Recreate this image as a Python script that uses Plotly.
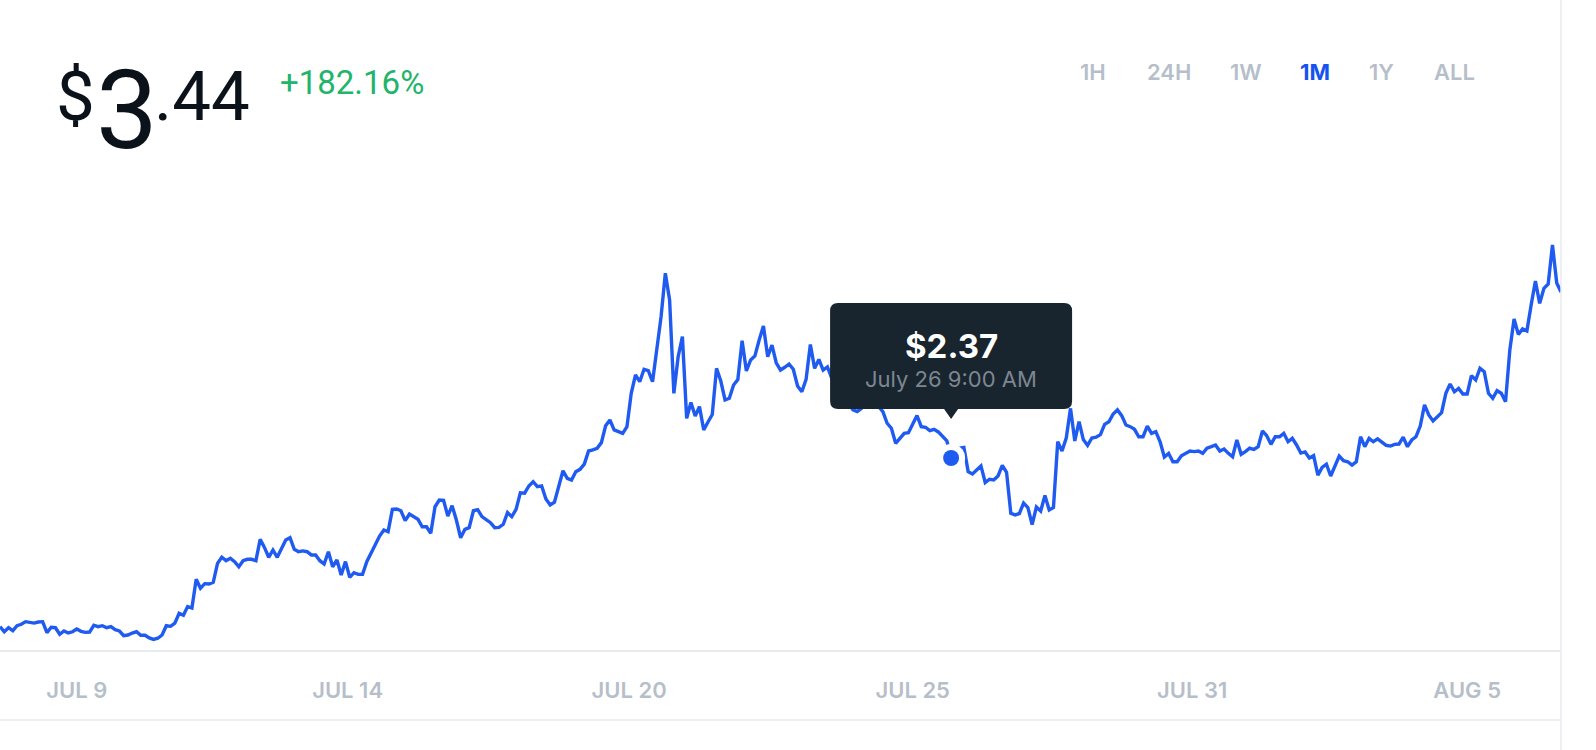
import plotly.graph_objects as go
import pandas as pd

# 1M price history, one point every 2 hours
start_time = "2018-07-07 19:00"
prices = [
    1.283, 1.250, 1.276, 1.257, 1.289, 1.298, 1.315, 1.308, 1.306, 1.313,
    1.315, 1.244, 1.279, 1.276, 1.234, 1.255, 1.242, 1.250, 1.268, 1.253,
    1.246, 1.248, 1.292, 1.283, 1.289, 1.276, 1.283, 1.263, 1.255, 1.225,
    1.229, 1.242, 1.250, 1.227, 1.227, 1.210, 1.201, 1.208, 1.229, 1.289,
    1.285, 1.305, 1.369, 1.356, 1.412, 1.403, 1.588, 1.530, 1.560, 1.558,
    1.569, 1.691, 1.730, 1.708, 1.724, 1.702, 1.669, 1.708, 1.717, 1.717,
    1.708, 1.846, 1.794, 1.730, 1.777, 1.730, 1.782, 1.842, 1.856, 1.782,
    1.766, 1.771, 1.766, 1.745, 1.745, 1.708, 1.687, 1.766, 1.669, 1.713,
    1.616, 1.702, 1.601, 1.631, 1.620, 1.620, 1.702, 1.760, 1.816, 1.867,
    1.906, 1.895, 2.039, 2.041, 2.030, 1.966, 2.009, 1.992, 1.975, 1.927,
    1.927, 1.885, 2.056, 2.099, 2.097, 1.996, 2.063, 1.970, 1.856, 1.910,
    1.921, 2.030, 2.037, 1.992, 1.974, 1.953, 1.921, 1.923, 1.943, 2.018,
    1.992, 2.039, 2.146, 2.143, 2.190, 2.217, 2.185, 2.190, 2.106, 2.067,
    2.085, 2.190, 2.288, 2.239, 2.228, 2.282, 2.297, 2.331, 2.415, 2.422,
    2.433, 2.469, 2.578, 2.615, 2.551, 2.540, 2.529, 2.572, 2.787, 2.905,
    2.862, 2.942, 2.933, 2.862, 3.066, 3.281, 3.561, 3.389, 2.787, 3.023,
    3.152, 2.626, 2.728, 2.641, 2.701, 2.551, 2.602, 2.650, 2.948, 2.866,
    2.744, 2.755, 2.841, 2.876, 3.126, 2.931, 3.002, 3.028, 3.131, 3.221,
    3.023, 3.098, 2.984, 2.937, 2.955, 2.976, 2.942, 2.834, 2.797, 2.877,
    3.102, 2.948, 3.005, 2.937, 2.957, 2.886, 2.834, 2.808, 2.757, 2.718,
    2.680, 2.669, 2.690, 2.725, 2.757, 2.737, 2.705, 2.669, 2.594, 2.562,
    2.465, 2.497, 2.529, 2.533, 2.589, 2.644, 2.572, 2.568, 2.546, 2.555,
    2.538, 2.512, 2.480, 2.370, 2.409, 2.434, 2.438, 2.282, 2.267, 2.293,
    2.319, 2.212, 2.233, 2.228, 2.254, 2.322, 2.277, 2.014, 2.003, 2.012,
    2.080, 2.051, 1.941, 2.054, 2.028, 2.128, 2.035, 2.051, 2.475, 2.415,
    2.499, 2.690, 2.480, 2.604, 2.489, 2.451, 2.499, 2.504, 2.521, 2.587,
    2.604, 2.654, 2.680, 2.643, 2.583, 2.572, 2.555, 2.507, 2.507, 2.576,
    2.529, 2.540, 2.475, 2.376, 2.400, 2.346, 2.346, 2.385, 2.400, 2.415,
    2.411, 2.415, 2.400, 2.433, 2.443, 2.454, 2.415, 2.428, 2.400, 2.378,
    2.486, 2.394, 2.411, 2.433, 2.426, 2.443, 2.544, 2.514, 2.458, 2.507,
    2.507, 2.529, 2.475, 2.497, 2.454, 2.402, 2.409, 2.370, 2.385, 2.260,
    2.310, 2.330, 2.254, 2.319, 2.383, 2.353, 2.346, 2.325, 2.346, 2.507,
    2.443, 2.497, 2.475, 2.493, 2.469, 2.452, 2.447, 2.458, 2.460, 2.504,
    2.443, 2.486, 2.507, 2.576, 2.712, 2.647, 2.609, 2.636, 2.662, 2.787,
    2.847, 2.797, 2.819, 2.783, 2.783, 2.901, 2.873, 2.948, 2.926, 2.787,
    2.755, 2.804, 2.787, 2.733, 3.066, 3.266, 3.167, 3.202, 3.189, 3.356,
    3.511, 3.367, 3.464, 3.492, 3.743, 3.498, 3.440,
]
times = pd.date_range(start_time, periods=len(prices), freq="2h")

tick_dates = ["2018-07-09 07:00", "2018-07-14 14:00", "2018-07-20 02:00",
              "2018-07-25 15:00", "2018-07-31 02:00", "2018-08-05 11:00"]
tick_labels = ["JUL 9", "JUL 14", "JUL 20", "JUL 25", "JUL 31", "AUG 5"]

hover_time = "2018-07-26 09:00"
hover_price = "$2.37"
hover_label = "July 26 9:00 AM"

price_dollar = "$"
price_int = "3"
price_dec = ".44"
change_text = "+182.16%"

ranges = ["1H", "24H", "1W", "1M", "1Y", "ALL"]
range_x = [1093, 1169, 1246, 1315, 1381, 1454]
active_range = "1M"

BLUE = "#1f5bf0"
DARK = "#0b121a"
GREY = "#b6bfc9"
LINE = "#e7eaee"

W, H = 1596, 750
PLOT_W = 1561
PLOT_TOP, PLOT_H = 150, 500

def px(x):
    return x / PLOT_W

def py(y):
    return (PLOT_TOP + PLOT_H - y) / PLOT_H

hi = list(times).index(pd.Timestamp(hover_time))
hx, hy = times[hi], prices[hi]

fig = go.Figure()
fig.add_trace(go.Scatter(x=times, y=prices, mode="lines",
                         line=dict(color=BLUE, width=3.4), hoverinfo="skip"))
fig.add_trace(go.Scatter(x=[hx], y=[hy], mode="markers",
                         marker=dict(color="white", size=28), hoverinfo="skip"))
fig.add_trace(go.Scatter(x=[hx], y=[hy], mode="markers",
                         marker=dict(color=BLUE, size=16), hoverinfo="skip"))

# tooltip box with pointer, sized in pixels around the hovered point
tip_path = ("M -113,155 L 113,155 Q 121,155 121,147 L 121,57 Q 121,49 113,49 "
            "L 7,49 L 0,39 L -7,49 L -113,49 Q -121,49 -121,57 L -121,147 "
            "Q -121,155 -113,155 Z")
fig.add_shape(type="path", path=tip_path, xref="x", yref="y",
              xsizemode="pixel", ysizemode="pixel", xanchor=hx, yanchor=hy,
              fillcolor="#18242e", line=dict(width=0), layer="above")

fig.add_annotation(x=hx, y=hy, xref="x", yref="y", text=hover_price,
                   showarrow=False, yshift=112,
                   font=dict(family="Inter", size=33, color="white", weight=700))
fig.add_annotation(x=hx, y=hy, xref="x", yref="y", text=hover_label,
                   showarrow=False, yshift=79,
                   font=dict(family="Inter", size=22, color="#7d8791"))

# header
fig.add_annotation(x=px(54), y=py(97), xref="paper", yref="paper",
                   text=price_dollar, showarrow=False, xanchor="left", yanchor="middle",
                   font=dict(family="Roboto", size=69, color=DARK, weight=400))
fig.add_annotation(x=px(94), y=py(111), xref="paper", yref="paper",
                   text=price_int, showarrow=False, xanchor="left", yanchor="middle",
                   font=dict(family="Roboto", size=110, color=DARK, weight=400))
fig.add_annotation(x=px(152), y=py(97), xref="paper", yref="paper",
                   text=price_dec, showarrow=False, xanchor="left", yanchor="middle",
                   font=dict(family="Roboto", size=69, color=DARK, weight=400))
fig.add_annotation(x=px(278), y=py(82), xref="paper", yref="paper",
                   text=change_text, showarrow=False, xanchor="left", yanchor="middle",
                   font=dict(family="Roboto", size=33, color="#21b46a", weight=400))

for name, x in zip(ranges, range_x):
    active = name == active_range
    fig.add_annotation(x=px(x), y=py(72), xref="paper", yref="paper",
                       text=name, showarrow=False, xanchor="center", yanchor="middle",
                       font=dict(family="Inter", size=22,
                                 color="#1652f0" if active else GREY,
                                 weight=700 if active else 600))

# bottom rule and right border
fig.add_shape(type="line", xref="paper", yref="paper", x0=0, x1=1, y0=py(720), y1=py(720),
              line=dict(color=LINE, width=1.5))
fig.add_shape(type="line", xref="paper", yref="paper", x0=1, x1=1, y0=py(750), y1=py(0),
              line=dict(color=LINE, width=1.5))

fig.update_layout(
    width=W, height=H,
    margin=dict(l=0, r=W - PLOT_W, t=PLOT_TOP, b=H - PLOT_TOP - PLOT_H, pad=0),
    paper_bgcolor="white", plot_bgcolor="white",
    showlegend=False, hovermode=False,
    xaxis=dict(range=[times[0], times[-1]], showgrid=False, zeroline=False,
               showline=True, linecolor=LINE, linewidth=1.5,
               tickvals=tick_dates, ticktext=tick_labels, ticks="",
               ticklabelstandoff=20,
               tickfont=dict(family="Inter", size=22, color=GREY, weight=600)),
    yaxis=dict(range=[1.1324, 4.3554], visible=False, showgrid=False, zeroline=False),
)

fig.write_html("out.html", config={"displayModeBar": False},
               post_script="document.body.style.margin='0px';")
